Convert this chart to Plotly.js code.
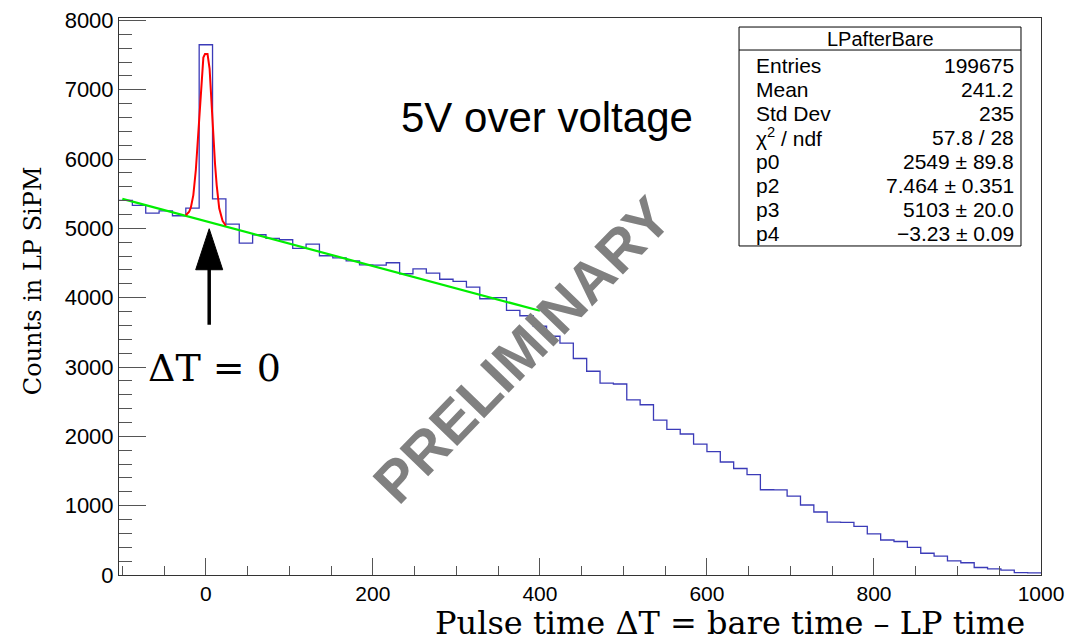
<!DOCTYPE html>
<html>
<head>
<meta charset="utf-8">
<script src="https://cdn.plot.ly/plotly-3.0.1.min.js"></script>
<style>html,body{margin:0;padding:0;background:#fff}#chart{width:1068px;height:643px}</style>
</head>
<body>
<div id="chart"></div>
<script>
// ---- data ----
const histName = "LPafterBare";
const binLow = -104;
const binWidth = 16;
const counts = [5403, 5331, 5221, 5254, 5182, 5293, 7649, 5427, 5062, 4788,
  4908, 4855, 4836, 4711, 4774, 4605, 4576, 4530, 4475, 4471,
  4504, 4346, 4415, 4356, 4266, 4237, 4154, 3985, 4002, 3816,
  3740, 3588, 3444, 3346, 3123, 2939, 2769, 2755, 2525, 2456,
  2233, 2101, 2034, 1889, 1781, 1630, 1536, 1447, 1230, 1228,
  1139, 1010, 909, 764, 760, 701, 593, 505, 483, 398,
  314, 271, 203, 177, 108, 87, 69, 33, 30];
const peakFitX = [-24, -20, -18, -15, -12, -9, -6, -3, -1, 2, 4.5, 7, 9, 11, 13, 16, 20, 24];
const peakFitY = [5190, 5240, 5300, 5480, 5842, 6364, 6968, 7464, 7514, 7514, 7300, 6722, 6306, 5927, 5620, 5290, 5109, 5038];
const bgFitX = [-100, 400];
const bgFitY = [5426, 3811];
const statLabels = ["Entries", "Mean", "Std Dev", "\u03c7<sup>2</sup> / ndf", "p0", "p2", "p3", "p4"];
const statValues = ["199675", "241.2", "235", "57.8 / 28", "2549 \u00b1 89.8", "7.464 \u00b1 0.351", "5103 \u00b1 20.0", "\u22123.23 \u00b1 0.09"];
const xTitle = "Pulse time \u0394T = bare time \u2013 LP time";
const yTitle = "Counts in LP SiPM";
const noteText = "5V over voltage";
const arrowText = "\u0394T = 0";
const watermark = "PRELIMINARY";
const arrowX = 4, arrowTipY = 4995, arrowTailY = 3610;

// ---- build histogram step line ----
const edges = [];
for (let i = 0; i <= counts.length; i++) edges.push(binLow + i * binWidth);
const stepY = counts.concat([counts[counts.length - 1]]);

const sans = "Liberation Sans, Arial, sans-serif";
const serif = "DejaVu Serif, serif";

const traces = [
  {x: edges, y: stepY, type: "scatter", mode: "lines", line: {shape: "hv", color: "#3b3bb8", width: 1.3}, hoverinfo: "skip"},
  {x: bgFitX, y: bgFitY, type: "scatter", mode: "lines", line: {color: "#00ee00", width: 2.2}, hoverinfo: "skip"},
  {x: peakFitX, y: peakFitY, type: "scatter", mode: "lines", line: {color: "#ff0000", width: 2}, hoverinfo: "skip"}
];

// stats box geometry (paper coords)
const bx0 = 0.6725, bx1 = 0.9783, by0 = 0.5907, by1 = 0.9838, bhead = 0.9425;
const rowTop = 0.9156, rowStep = 0.0431;

const annotations = [];
annotations.push({xref: "paper", yref: "paper", x: (bx0 + bx1) / 2, y: (by1 + bhead) / 2, text: histName, showarrow: false, xanchor: "center", yanchor: "middle", font: {family: sans, size: 20, color: "#000"}});
statLabels.forEach((t, i) => {
  annotations.push({xref: "paper", yref: "paper", x: 0.6887, y: rowTop - i * rowStep, text: t, showarrow: false, xanchor: "left", yanchor: "middle", font: {family: sans, size: 21, color: "#000"}});
  annotations.push({xref: "paper", yref: "paper", x: bx1 - 0.005, y: rowTop - i * rowStep, text: statValues[i], showarrow: false, xanchor: "right", yanchor: "middle", font: {family: sans, size: 21, color: "#000"}});
});
annotations.push({xref: "paper", yref: "paper", x: 0.464, y: 0.822, text: noteText, showarrow: false, xanchor: "center", yanchor: "middle", font: {family: sans, size: 42, color: "#000"}});
annotations.push({xref: "paper", yref: "paper", x: 0.029, y: 0.372, text: arrowText, showarrow: false, xanchor: "left", yanchor: "middle", font: {family: serif, size: 38, color: "#000"}});
annotations.push({xref: "paper", yref: "paper", x: 0.437, y: 0.405, text: "<b>" + watermark + "</b>", showarrow: false, xanchor: "center", yanchor: "middle", textangle: -46, font: {family: sans, size: 58, color: "#808080"}});
annotations.push({xref: "paper", yref: "paper", x: 0.9835, y: -0.1215, text: xTitle, showarrow: false, xanchor: "right", yanchor: "bottom", borderpad: 0, font: {family: serif, size: 32, color: "#000"}});
annotations.push({xref: "paper", yref: "paper", x: -0.093, y: 0.528, text: yTitle, showarrow: false, xanchor: "center", yanchor: "middle", textangle: -90, font: {family: serif, size: 24, color: "#000"}});

const shapes = [
  {type: "rect", xref: "paper", yref: "paper", x0: bx0, x1: bx1, y0: by0, y1: by1, line: {color: "#000", width: 1}, fillcolor: "#fff", layer: "above"},
  {type: "line", xref: "paper", yref: "paper", x0: bx0, x1: bx1, y0: bhead, y1: bhead, line: {color: "#000", width: 1}, layer: "above"},
  {type: "line", xref: "x", yref: "y", x0: arrowX, x1: arrowX, y0: arrowTailY, y1: arrowTipY - 560, line: {color: "#000", width: 3.5}},
  {type: "path", xref: "x", yref: "y", xsizemode: "pixel", ysizemode: "pixel", xanchor: arrowX, yanchor: arrowTipY, path: "M0,0 L-13.5,-41 L13.5,-41 Z", fillcolor: "#000", line: {color: "#000", width: 1}}
];

const layout = {
  width: 1068, height: 643,
  margin: {l: 119, r: 27, t: 18, b: 68, pad: 0},
  paper_bgcolor: "#fff", plot_bgcolor: "#fff",
  showlegend: false,
  xaxis: {range: [binLow, 1000], dtick: 200, tick0: 0, ticks: "inside", ticklen: 17, tickwidth: 1, tickcolor: "#555",
    minor: {dtick: 50, ticks: "inside", ticklen: 9, tickcolor: "#555", showgrid: false},
    showgrid: false, zeroline: false, showline: true, mirror: true, linecolor: "#333", linewidth: 1,
    tickfont: {family: sans, size: 21, color: "#000"}},
  yaxis: {range: [0, 8035], dtick: 1000, tick0: 0, ticks: "inside", ticklen: 27, tickwidth: 1, tickcolor: "#555",
    minor: {dtick: 200, ticks: "inside", ticklen: 13, tickcolor: "#555", showgrid: false},
    showgrid: false, zeroline: false, showline: true, mirror: true, linecolor: "#333", linewidth: 1,
    tickfont: {family: sans, size: 22, color: "#000"}},
  annotations: annotations,
  shapes: shapes
};

Plotly.newPlot("chart", traces, layout, {displayModeBar: false, staticPlot: true});
</script>
</body>
</html>
